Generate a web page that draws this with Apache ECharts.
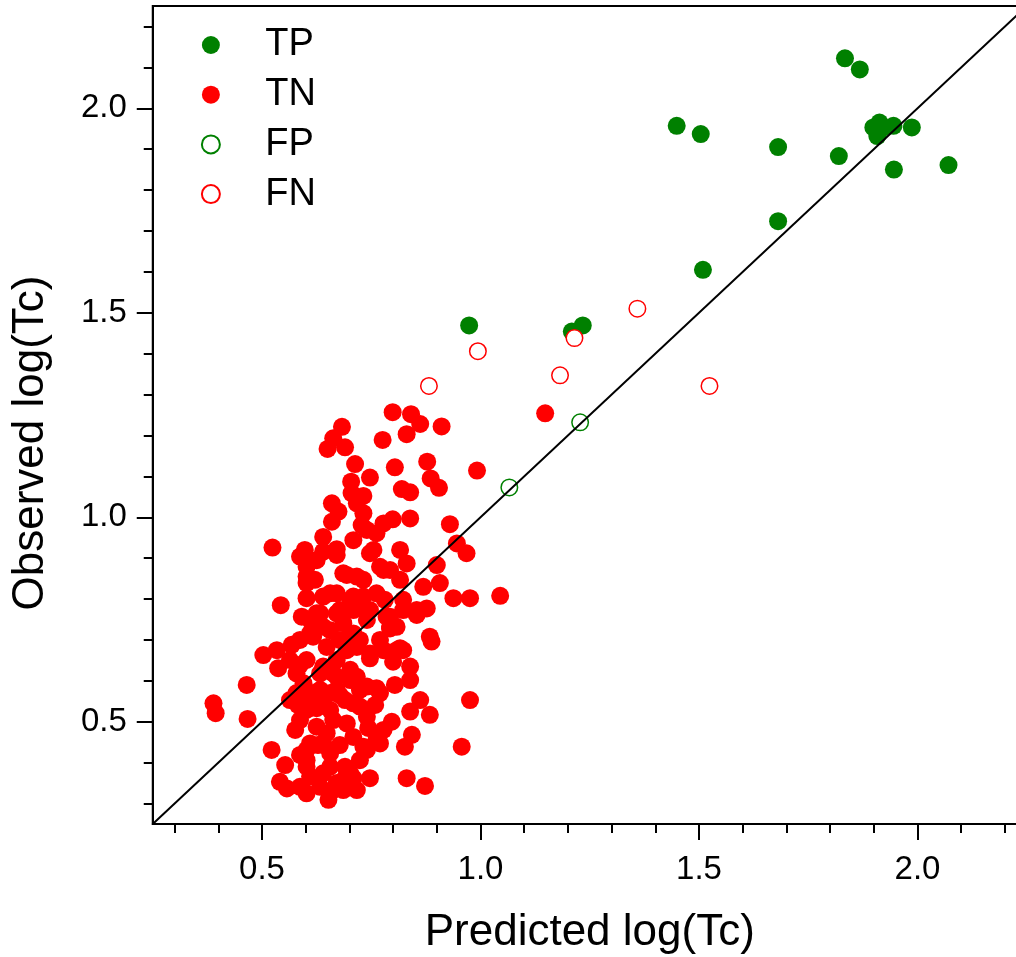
<!DOCTYPE html>
<html>
<head>
<meta charset="utf-8">
<script src="https://cdn.jsdelivr.net/npm/echarts@6/dist/echarts.min.js"></script>
<style>
html,body{margin:0;padding:0;background:#fff;}
#chart{width:1016px;height:957px;}
</style>
</head>
<body>
<div id="chart"></div>
<script>
// ---- data ----
const seriesNames = ['TP', 'TN', 'FP', 'FN'];

const tp = [
  [1.834,2.122],[1.868,2.095],[1.449,1.957],[1.504,1.937],[1.681,1.905],[1.820,1.883],
  [1.946,1.850],[2.071,1.861],[1.987,1.953],[1.913,1.965],[1.945,1.957],[1.908,1.932],
  [1.922,1.953],[1.899,1.953],[1.681,1.724],[1.509,1.605],[0.974,1.469],[1.234,1.469],
  [1.209,1.454]
];

const tn = [
  [0.799,1.257],[0.841,1.252],[0.862,1.228],[0.911,1.222],[0.831,1.203],[0.776,1.189],[0.683,1.221],[0.663,1.193],[0.650,1.167],[0.690,1.171],
  [0.713,1.130],[0.804,1.122],[0.878,1.136],[0.886,1.095],[0.905,1.072],[0.992,1.114],[0.747,1.097],[0.704,1.087],[0.820,1.069],[0.839,1.061],
  [0.705,1.059],[0.732,1.052],[0.660,1.034],[0.675,1.014],[0.717,1.034],[0.732,1.010],[0.660,0.989],[0.839,0.997],[0.799,0.995],[0.778,0.985],
  [0.728,0.981],[0.640,0.952],[0.709,0.944],[0.762,0.961],[0.740,0.969],[0.930,0.983],[0.946,0.936],[0.968,0.912],[0.524,0.926],[0.598,0.920],
  [0.671,0.922],[0.755,0.920],[0.816,0.920],[0.587,0.904],[0.625,0.895],[0.671,0.908],[0.900,0.883],[0.602,0.855],[0.694,0.859],[0.732,0.847],
  [0.778,0.871],[0.816,0.847],[0.869,0.830],[0.907,0.839],[0.938,0.802],[0.976,0.802],[1.045,0.808],[0.543,0.785],[0.602,0.802],[0.656,0.814],
  [0.709,0.806],[0.762,0.814],[0.823,0.798],[0.877,0.777],[0.854,0.761],[0.591,0.757],[0.633,0.765],[0.678,0.773],[0.724,0.781],[0.785,0.757],
  [0.793,0.728],[0.617,0.708],[0.656,0.724],[0.709,0.716],[0.884,0.708],[0.503,0.663],[0.534,0.675],[0.568,0.688],[0.537,0.631],[0.587,0.639],
  [0.648,0.683],[0.671,0.651],[0.694,0.675],[0.747,0.655],[0.778,0.675],[0.816,0.680],[0.800,0.647],[0.839,0.635],[0.839,0.602],[0.465,0.590],
  [0.595,0.594],[0.633,0.618],[0.671,0.610],[0.717,0.610],[0.740,0.586],[0.762,0.582],[0.862,0.553],[0.976,0.553],[0.579,0.570],[0.656,0.570],
  [0.389,0.545],[0.394,0.521],[0.467,0.507],[0.576,0.480],[0.602,0.529],[0.602,0.561],[0.640,0.553],[0.678,0.565],[0.709,0.545],[0.740,0.512],
  [0.770,0.570],[0.797,0.500],[0.839,0.525],[0.884,0.517],[0.843,0.468],[0.827,0.439],[0.957,0.439],[0.522,0.431],[0.553,0.394],[0.541,0.353],
  [0.557,0.337],[0.602,0.406],[0.610,0.447],[0.625,0.488],[0.648,0.472],[0.663,0.504],[0.694,0.496],[0.709,0.463],[0.740,0.431],[0.770,0.447],
  [0.778,0.480],[0.610,0.366],[0.602,0.325],[0.633,0.341],[0.656,0.390],[0.690,0.390],[0.663,0.333],[0.652,0.309],[0.686,0.333],[0.717,0.333],
  [0.747,0.362],[0.709,0.362],[0.831,0.362],[0.873,0.343],[0.587,0.341],[0.888,0.696],[0.732,0.439],[0.762,0.455],[0.625,0.533],[0.617,0.570],
  [0.671,0.578],[0.663,0.618],[0.702,0.602],[0.724,0.537],[0.602,0.390],[0.640,0.374],[0.671,0.350],[0.702,0.374],[0.656,0.423],[0.640,0.447],
  [0.602,0.431],[0.564,0.651],[0.579,0.618],[0.602,0.879],[0.640,0.916],[0.747,0.912],[0.831,0.887],[0.602,0.839],[0.621,0.847],[0.686,0.863],
  [0.717,0.855],[0.770,0.879],[0.793,0.871],[0.640,0.806],[0.671,0.814],[0.702,0.798],[0.732,0.806],[0.625,0.765],[0.671,0.765],[0.709,0.773],
  [0.740,0.749],[0.793,0.757],[0.808,0.732],[0.854,0.773],[0.823,0.773],[0.610,0.716],[0.640,0.732],[0.686,0.741],[0.702,0.716],[0.717,0.683],
  [0.770,0.700],[0.793,0.732],[0.823,0.675],[0.602,0.651],[0.640,0.635],[0.702,0.627],[0.747,0.667],[0.808,0.675],
  [0.690,0.553],[0.656,0.529],[0.724,0.578],[0.759,0.541],[0.587,0.504],[0.678,0.443],[0.724,0.406],[0.587,0.700],
  [0.678,0.700],[0.804,0.590],[0.610,0.749],[0.747,0.773],[0.781,0.798],[0.724,0.700],
  [0.628,0.443],[0.582,0.541],[0.587,0.419],[0.690,0.362],[0.743,0.485],[0.633,0.578],[0.564,0.553],
  [1.148,1.254]
];

const fp = [
  [1.228,1.232],[1.066,1.073]
];

const fn = [
  [1.359,1.510],[0.994,1.406],[1.215,1.438],[1.182,1.347],[0.882,1.321],[1.524,1.321]
];

const diagonal = [[0.25,0.25],[2.25,2.25]];

const axisMin = 0.25, axisMax = 2.25;
const majorTicks = [0.5, 1.0, 1.5, 2.0];
const majorTickLabels = ['0.5', '1.0', '1.5', '2.0'];
const minorTicks = [0.3,0.4,0.6,0.7,0.8,0.9,1.1,1.2,1.3,1.4,1.6,1.7,1.8,1.9,2.1,2.2];

const xTitle = 'Predicted log(Tc)';
const yTitle = 'Observed log(Tc)';

// ---- chart ----
const FONT = "'Liberation Sans', Arial, sans-serif";
const GREEN = '#008000', RED = '#ff0000';
const labelFor = v => {
  const i = majorTicks.findIndex(t => Math.abs(t - v) < 1e-6);
  return i >= 0 ? majorTickLabels[i] : '';
};

function majorAxis(dim) {
  const isX = dim === 'x';
  return {
    type: 'value', min: axisMin, max: axisMax, position: isX ? 'bottom' : 'left',
    name: isX ? xTitle : yTitle,
    nameLocation: 'middle',
    nameGap: isX ? 87 : 100,
    nameTextStyle: isX
      ? { fontFamily: FONT, fontSize: 44, color: '#000' }
      : { fontFamily: FONT, fontSize: 44, color: '#000', padding: [0, 56, 0, 0] },
    axisLine: { show: true, onZero: false, lineStyle: { color: '#000', width: 2 } },
    axisTick: { show: true, inside: false, length: 16, customValues: majorTicks, lineStyle: { color: '#000', width: 2 } },
    axisLabel: { show: true, margin: isX ? 29 : 26, customValues: majorTicks, formatter: labelFor,
      fontFamily: FONT, fontSize: 33, color: '#000' },
    splitLine: { show: false }
  };
}
function minorAxis(dim) {
  const isX = dim === 'x';
  return {
    type: 'value', min: axisMin, max: axisMax, position: isX ? 'bottom' : 'left',
    axisLine: { show: false, onZero: false },
    axisTick: { show: true, inside: false, length: 9, customValues: minorTicks, lineStyle: { color: '#000', width: 2 } },
    axisLabel: { show: false },
    splitLine: { show: false }
  };
}

const chart = echarts.init(document.getElementById('chart'), null, { renderer: 'canvas' });
chart.setOption({
  animation: false,
  backgroundColor: '#fff',
  grid: { left: 152.75, top: 6, width: 874, height: 818, outerBoundsMode: 'none', containLabel: false,
    show: true, borderColor: '#000', borderWidth: 2, backgroundColor: 'transparent' },
  xAxis: [majorAxis('x'), minorAxis('x')],
  yAxis: [majorAxis('y'), minorAxis('y')],
  legend: {
    orient: 'vertical', left: 200.9, top: 26, padding: 0,
    itemWidth: 98.6, itemHeight: 18, itemGap: 11.7,
    data: seriesNames,
    textStyle: { fontFamily: FONT, fontSize: 38, color: '#000', lineHeight: 38 },
    selectedMode: false
  },
  series: [
    { name: 'TP', type: 'scatter', data: tp, symbol: 'circle', symbolSize: 18,
      itemStyle: { color: GREEN, opacity: 1 }, emphasis: { disabled: true }, z: 2 },
    { name: 'TN', type: 'scatter', data: tn, symbol: 'circle', symbolSize: 18,
      itemStyle: { color: RED, opacity: 1 }, emphasis: { disabled: true }, z: 2 },
    { name: 'FP', type: 'scatter', data: fp, symbol: 'circle', symbolSize: 16.5,
      itemStyle: { color: '#fff', borderColor: GREEN, borderWidth: 1.5, opacity: 1 }, emphasis: { disabled: true }, z: 2 },
    { name: 'FN', type: 'scatter', data: fn, symbol: 'circle', symbolSize: 16.5,
      itemStyle: { color: '#fff', borderColor: RED, borderWidth: 1.5, opacity: 1 }, emphasis: { disabled: true }, z: 2 },
    { name: 'diag', type: 'line', data: diagonal, showSymbol: false, symbol: 'none',
      lineStyle: { color: '#000', width: 2 }, silent: true, z: 5, legendHoverLink: false }
  ]
});
</script>
</body>
</html>
